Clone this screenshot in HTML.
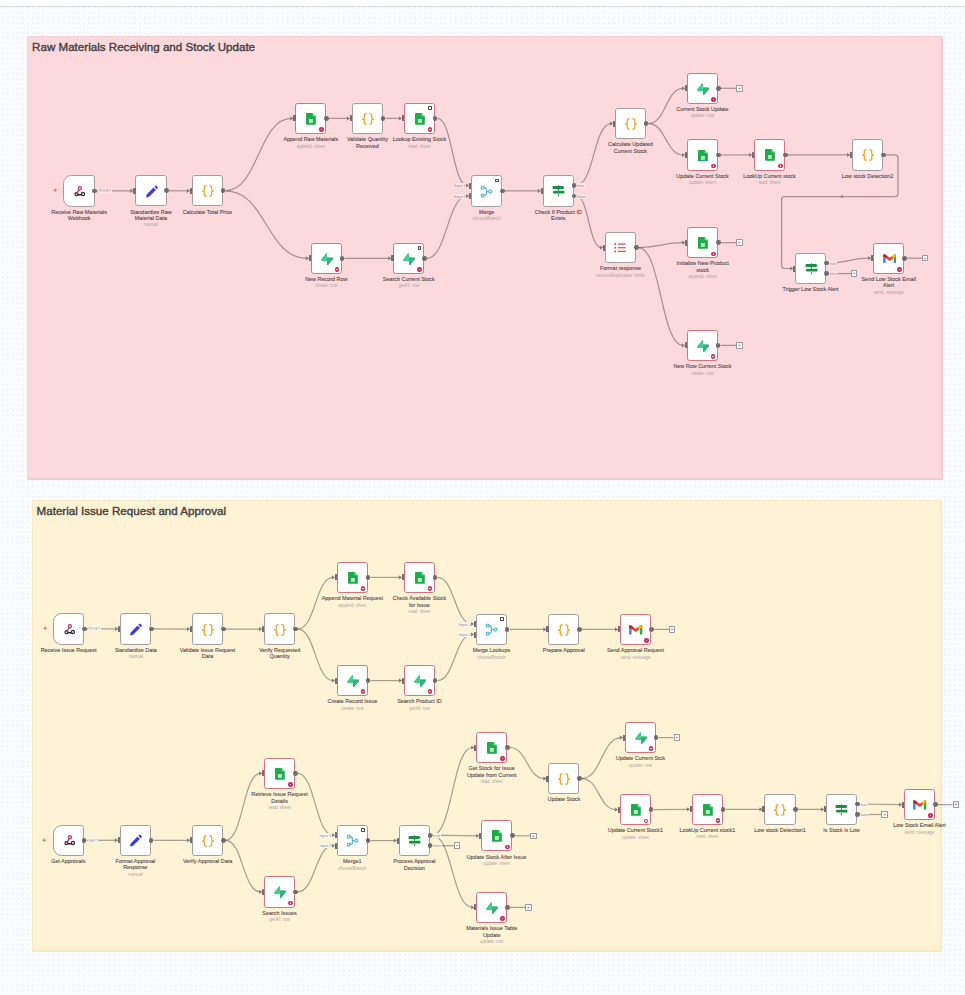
<!DOCTYPE html>
<html><head><meta charset="utf-8"><style>
html,body{margin:0;padding:0}
body{width:965px;height:995px;position:relative;overflow:hidden;background-color:#fafbfc;background-image:radial-gradient(circle at 2.5px 2.5px,#eceef2 0.55px,rgba(249,250,252,0) 0.9px);background-size:5.1px 5.1px;font-family:"Liberation Sans",sans-serif}
.top{position:absolute;left:0;top:0;width:965px;height:6px;background:#fff;border-bottom:1px solid #d9dadd}
.st{position:absolute;box-sizing:border-box}
.st1{left:27.3px;top:35.9px;width:915.6px;height:444.6px;background:#fcd9dc;box-shadow:inset 0 0 0 0.8px rgba(215,150,160,0.18),inset -2px -2px 3px rgba(230,170,180,0.2);border-radius:2px}
.st2{left:32px;top:500px;width:910.2px;height:451.9px;background:#fef3d5;box-shadow:inset 0 0 0 0.8px rgba(225,190,120,0.18),inset -2px -2px 3px rgba(245,215,140,0.3);border-radius:2px}
.ttl{position:absolute;font-size:11.6px;color:#454142;white-space:nowrap;-webkit-text-stroke:0.4px #454142}
svg.edges{position:absolute;left:0;top:0}
svg.edges path{fill:none;stroke:rgba(85,70,74,0.5);stroke-width:1.2}
.n{position:absolute;width:31.4px;height:31.4px;box-sizing:border-box;background:#fff;border:0.9px solid #a29d9e;border-radius:2.6px;display:flex;align-items:center;justify-content:center;padding:1px 0 0 1px}
.n.e{border-color:#d9737d}
.n.t{border-radius:8.5px 2.6px 2.6px 8.5px}
svg.edges path.ar{fill:#857f80;stroke:none}
.ei{position:absolute;width:4.6px;height:4.6px;box-sizing:border-box;border-radius:50%;background:#d02d55;border:0 solid #cf3160}
.ei::after{content:"";position:absolute;left:1.55px;top:1.55px;width:1.5px;height:1.5px;border-radius:50%;background:#fbe3ea}

.pin{position:absolute;width:3.8px;height:3.6px;box-sizing:border-box;border:0.65px solid #4a4a4a;border-radius:0.7px}
.hi{position:absolute;width:2.5px;height:6px;background:#726c6d;border-radius:0.5px}
.ho{position:absolute;width:4.8px;height:4.8px;border-radius:50%;background:#6f6a6b}
.lb{position:absolute;width:100px;text-align:center;white-space:nowrap}
.lt{font-size:5.45px;line-height:6.4px;color:#54484b;-webkit-text-stroke:0.1px #54484b}
.sb{font-size:4.45px;line-height:8.4px;margin-top:0px;color:#aea6a8}
.pb{position:absolute;width:6.6px;height:6.6px;box-sizing:border-box;border:0.7px solid #9d9899;background:#fff;border-radius:0.8px;font-size:5px;line-height:5px;text-align:center;color:#777}
.el,.il,.ol{position:absolute;font-size:3.9px;line-height:5px;padding:0 0.6px;color:#8d8587;white-space:nowrap}
.el{letter-spacing:0.45px}
.pk{background:#fde7e9}
.yl{background:#fef9ec}
.tb{position:absolute}
</style></head><body>
<div class="top"></div>
<div class="st st1"></div>
<div class="st st2"></div>
<div class="ttl" style="left:32.1px;top:40px">Raw Materials Receiving and Stock Update</div>
<div class="ttl" style="left:36.6px;top:504px">Material Issue Request and Approval</div>
<svg class="edges" width="965" height="995" viewBox="0 0 965 995">
<path d="M97.2 190.9L131.6 190.8"/>
<path d="M169 190.8L188.1 190.8"/>
<path d="M225.5 190.8C258.5 190.8 258.5 118.4 291.5 118.4"/>
<path d="M225.5 190.8C266.25 190.8 266.25 258.3 307 258.3"/>
<path d="M328.9 118.4L348.1 118.4"/>
<path d="M385.5 118.4L400.1 118.4"/>
<path d="M437.5 118.4C452.4 118.4 452.4 185.5 467.3 185.5"/>
<path d="M344.4 258.3L389.5 258.3"/>
<path d="M426.9 258.3C447.1 258.3 447.1 196 467.3 196"/>
<path d="M504.7 190.9L539 190.9"/>
<path d="M576.4 185.5C593.75 185.5 593.75 123.6 611.1 123.6"/>
<path d="M576.4 196C588.8 196 588.8 247.6 601.2 247.6"/>
<path d="M648.5 123.6C665.85 123.6 665.85 88.3 683.2 88.3"/>
<path d="M648.5 123.6C665.85 123.6 665.85 155 683.2 155"/>
<path d="M720.6 155L750.2 154.9"/>
<path d="M787.6 154.9L848.2 154.9"/>
<path d="M638.6 247.6C660.95 247.6 660.95 242.7 683.3 242.7"/>
<path d="M638.6 247.6C660.85 247.6 660.85 345.4 683.1 345.4"/>
<path d="M828.7 263.1C849.05 263.1 849.05 258.2 869.4 258.2"/>
<path d="M86.7 628.9L116.4 628.9"/>
<path d="M153.8 628.9L188.2 629.1"/>
<path d="M225.6 629.1L260.4 629.1"/>
<path d="M297.8 629.1C315.45 629.1 315.45 577.4 333.1 577.4"/>
<path d="M297.8 629.1C315.45 629.1 315.45 680.6 333.1 680.6"/>
<path d="M370.5 577.4L400.1 577.4"/>
<path d="M437.5 577.4C454.8 577.4 454.8 624 472.1 624"/>
<path d="M370.5 680.6L400.1 680.6"/>
<path d="M437.5 680.6C454.8 680.6 454.8 634.5 472.1 634.5"/>
<path d="M509.5 629.4L544.5 629.4"/>
<path d="M581.9 629.4L616.2 629.4"/>
<path d="M86.5 840.3L116.1 840.3"/>
<path d="M153.5 840.3L188.3 840.3"/>
<path d="M225.7 840.3C243 840.3 243 773.4 260.3 773.4"/>
<path d="M225.7 840.3C243 840.3 243 891.9 260.3 891.9"/>
<path d="M297.7 773.4C315.35 773.4 315.35 835.2 333 835.2"/>
<path d="M297.7 891.9C315.35 891.9 315.35 845.7 333 845.7"/>
<path d="M370.4 840.6L395 840.6"/>
<path d="M432.4 835.2C452.4 835.2 452.4 747.5 472.4 747.5"/>
<path d="M432.4 835.2L477.3 835.8"/>
<path d="M432.4 835.2C452.4 835.2 452.4 907.4 472.4 907.4"/>
<path d="M509.8 747.5C527.15 747.5 527.15 778.6 544.5 778.6"/>
<path d="M581.9 778.6C601.5 778.6 601.5 737.6 621.1 737.6"/>
<path d="M581.9 778.6C599 778.6 599 809.7 616.1 809.7"/>
<path d="M653.5 809.7L688.1 809.3"/>
<path d="M725.5 809.3L760.7 809.3"/>
<path d="M798.1 809.3L822.2 809.4"/>
<path d="M859.6 804L900.2 804.6"/>
<path d="M885.7 154.9L895 154.9Q898 154.9 898 157.9L898 193.6Q898 196.6 895 196.6L784.6 196.6Q781.6 196.6 781.6 199.6L781.6 265.5Q781.6 268.5 784.6 268.5L791.3 268.5"/>
<path d="M720.6 88.3L736.1 88.3"/>
<path d="M720.7 242.7L736 242.7"/>
<path d="M720.5 345.4L736.1 345.4"/>
<path d="M906.8 258.2L921.7 258.2"/>
<path d="M828.7 273.6L850.9 273.6"/>
<path d="M653.6 629.4L668.8 629.4"/>
<path d="M432.4 845.7L453.7 845.7"/>
<path d="M514.7 835.8L530 835.8"/>
<path d="M509.8 907.4L525 907.4"/>
<path d="M658.5 737.6L673.5 737.6"/>
<path d="M859.6 814.5L881.4 814.5"/>
<path d="M937.6 804.6L952.5 804.6"/>
<path class="ar" d="M130.4 188.7L133.7 190.8L130.4 192.9Z"/>
<path class="ar" d="M186.9 188.7L190.2 190.8L186.9 192.9Z"/>
<path class="ar" d="M290.3 116.3L293.6 118.4L290.3 120.5Z"/>
<path class="ar" d="M305.8 256.2L309.1 258.3L305.8 260.4Z"/>
<path class="ar" d="M346.9 116.3L350.2 118.4L346.9 120.5Z"/>
<path class="ar" d="M398.9 116.3L402.2 118.4L398.9 120.5Z"/>
<path class="ar" d="M466.1 183.4L469.4 185.5L466.1 187.6Z"/>
<path class="ar" d="M388.3 256.2L391.6 258.3L388.3 260.4Z"/>
<path class="ar" d="M466.1 193.9L469.4 196L466.1 198.1Z"/>
<path class="ar" d="M537.8 188.8L541.1 190.9L537.8 193Z"/>
<path class="ar" d="M609.9 121.5L613.2 123.6L609.9 125.7Z"/>
<path class="ar" d="M600 245.5L603.3 247.6L600 249.7Z"/>
<path class="ar" d="M682 86.2L685.3 88.3L682 90.4Z"/>
<path class="ar" d="M682 152.9L685.3 155L682 157.1Z"/>
<path class="ar" d="M749 152.8L752.3 154.9L749 157Z"/>
<path class="ar" d="M847 152.8L850.3 154.9L847 157Z"/>
<path class="ar" d="M682.1 240.6L685.4 242.7L682.1 244.8Z"/>
<path class="ar" d="M681.9 343.3L685.2 345.4L681.9 347.5Z"/>
<path class="ar" d="M868.2 256.1L871.5 258.2L868.2 260.3Z"/>
<path class="ar" d="M115.2 626.8L118.5 628.9L115.2 631Z"/>
<path class="ar" d="M187 627L190.3 629.1L187 631.2Z"/>
<path class="ar" d="M259.2 627L262.5 629.1L259.2 631.2Z"/>
<path class="ar" d="M331.9 575.3L335.2 577.4L331.9 579.5Z"/>
<path class="ar" d="M331.9 678.5L335.2 680.6L331.9 682.7Z"/>
<path class="ar" d="M398.9 575.3L402.2 577.4L398.9 579.5Z"/>
<path class="ar" d="M470.9 621.9L474.2 624L470.9 626.1Z"/>
<path class="ar" d="M398.9 678.5L402.2 680.6L398.9 682.7Z"/>
<path class="ar" d="M470.9 632.4L474.2 634.5L470.9 636.6Z"/>
<path class="ar" d="M543.3 627.3L546.6 629.4L543.3 631.5Z"/>
<path class="ar" d="M615 627.3L618.3 629.4L615 631.5Z"/>
<path class="ar" d="M114.9 838.2L118.2 840.3L114.9 842.4Z"/>
<path class="ar" d="M187.1 838.2L190.4 840.3L187.1 842.4Z"/>
<path class="ar" d="M259.1 771.3L262.4 773.4L259.1 775.5Z"/>
<path class="ar" d="M259.1 889.8L262.4 891.9L259.1 894Z"/>
<path class="ar" d="M331.8 833.1L335.1 835.2L331.8 837.3Z"/>
<path class="ar" d="M331.8 843.6L335.1 845.7L331.8 847.8Z"/>
<path class="ar" d="M393.8 838.5L397.1 840.6L393.8 842.7Z"/>
<path class="ar" d="M471.2 745.4L474.5 747.5L471.2 749.6Z"/>
<path class="ar" d="M476.1 833.7L479.4 835.8L476.1 837.9Z"/>
<path class="ar" d="M471.2 905.3L474.5 907.4L471.2 909.5Z"/>
<path class="ar" d="M543.3 776.5L546.6 778.6L543.3 780.7Z"/>
<path class="ar" d="M619.9 735.5L623.2 737.6L619.9 739.7Z"/>
<path class="ar" d="M614.9 807.6L618.2 809.7L614.9 811.8Z"/>
<path class="ar" d="M686.9 807.2L690.2 809.3L686.9 811.4Z"/>
<path class="ar" d="M759.5 807.2L762.8 809.3L759.5 811.4Z"/>
<path class="ar" d="M821 807.3L824.3 809.4L821 811.5Z"/>
<path class="ar" d="M899 802.5L902.3 804.6L899 806.7Z"/>
<path class="ar" d="M839.6 196.6L842.8 194.9L842.8 198.3Z"/>
<path class="ar" d="M790.1 266.4L793.4 268.5L790.1 270.6Z"/>
</svg>
<div class="n t" style="left:63.4px;top:175.2px"><svg viewBox="0 0 12 11" width="11.6" height="10.6" style="margin-left:1.4px"><g fill="none" stroke-width="1.35" stroke-linecap="round"><circle cx="2.6" cy="8.5" r="1.55" stroke="#2f2a2d"/><path d="M4.1 9.1H7.8" stroke="#2f2a2d"/><circle cx="9.3" cy="8.3" r="1.6" stroke="#2f2a2d"/><circle cx="6.1" cy="2.4" r="1.6" stroke="#c73a73"/><path d="M5.3 3.8L2.9 7.9" stroke="#c73a73"/></g></svg></div>
<div class="ho" style="left:92.4px;top:188.5px"></div>
<svg class="tb" style="left:53.1px;top:188.3px" width="4.4" height="4.6" viewBox="0 0 4.4 4.6"><path d="M2.2 0L2.9 1.6L4.4 2.3L2.9 3L2.2 4.6L1.5 3L0 2.3L1.5 1.6Z" fill="#dc7d78"/></svg>
<div class="lb" style="left:29.1px;top:208.6px"><div class="lt">Receive Raw Materials<br>Webhook</div></div>
<div class="n" style="left:135.2px;top:175.1px"><svg viewBox="0 0 12 12" width="13.5" height="13.5"><path d="M0.9 11.1L1.5 8.4L7.6 2.3L9.7 4.4L3.6 10.5Z" fill="#3b3fe3"/><path d="M8.3 1.6L9.1 0.8Q9.7 0.2 10.3 0.8L11.2 1.7Q11.8 2.3 11.2 2.9L10.4 3.7Z" fill="#3b3fe3"/></svg></div>
<div class="hi" style="left:133.1px;top:187.8px"></div>
<div class="ho" style="left:164.2px;top:188.4px"></div>
<div class="lb" style="left:100.9px;top:208.5px"><div class="lt">Standardize Raw<br>Material Data</div><div class="sb">manual</div></div>
<div class="n" style="left:191.7px;top:175.1px"><svg viewBox="0 0 12 12" width="12" height="12"><path d="M4.7 0.9H3.3Q2.3 0.9 2.3 1.9V4.7Q2.3 5.8 0.6 6Q2.3 6.2 2.3 7.3V10.1Q2.3 11.1 3.3 11.1H4.7M7.3 0.9H8.7Q9.7 0.9 9.7 1.9V4.7Q9.7 5.8 11.4 6Q9.7 6.2 9.7 7.3V10.1Q9.7 11.1 8.7 11.1H7.3" fill="none" stroke="#f0a236" stroke-width="1.3" stroke-linejoin="round"/></svg></div>
<div class="hi" style="left:189.6px;top:187.8px"></div>
<div class="ho" style="left:220.7px;top:188.4px"></div>
<div class="lb" style="left:157.4px;top:208.5px"><div class="lt">Calculate Total Price</div></div>
<div class="n e" style="left:295.1px;top:102.7px"><svg viewBox="0 0 10 12" width="9.8" height="11.8"><path d="M0.7 0H6.8L10 3.2V11.3Q10 12 9.3 12H0.7Q0 12 0 11.3V0.7Q0 0 0.7 0Z" fill="#1faa4c"/><path d="M6.8 0V3.2H10Z" fill="#86dba0"/><rect x="3" y="6.1" width="4" height="3.9" fill="#b8f3c4"/><path d="M3 8H7" stroke="#8fdca5" stroke-width="0.4"/></svg></div>
<div class="ei" style="left:319.3px;top:127.2px"></div>
<div class="hi" style="left:293px;top:115.4px"></div>
<div class="ho" style="left:324.1px;top:116px"></div>
<div class="lb" style="left:260.8px;top:136.1px"><div class="lt">Append Raw Materials</div><div class="sb">append: sheet</div></div>
<div class="n" style="left:351.7px;top:102.7px"><svg viewBox="0 0 12 12" width="12" height="12"><path d="M4.7 0.9H3.3Q2.3 0.9 2.3 1.9V4.7Q2.3 5.8 0.6 6Q2.3 6.2 2.3 7.3V10.1Q2.3 11.1 3.3 11.1H4.7M7.3 0.9H8.7Q9.7 0.9 9.7 1.9V4.7Q9.7 5.8 11.4 6Q9.7 6.2 9.7 7.3V10.1Q9.7 11.1 8.7 11.1H7.3" fill="none" stroke="#f0a236" stroke-width="1.3" stroke-linejoin="round"/></svg></div>
<div class="hi" style="left:349.6px;top:115.4px"></div>
<div class="ho" style="left:380.7px;top:116px"></div>
<div class="lb" style="left:317.4px;top:136.1px"><div class="lt">Validate Quantity<br>Received</div></div>
<div class="n e" style="left:403.7px;top:102.7px"><svg viewBox="0 0 10 12" width="9.8" height="11.8"><path d="M0.7 0H6.8L10 3.2V11.3Q10 12 9.3 12H0.7Q0 12 0 11.3V0.7Q0 0 0.7 0Z" fill="#1faa4c"/><path d="M6.8 0V3.2H10Z" fill="#86dba0"/><rect x="3" y="6.1" width="4" height="3.9" fill="#b8f3c4"/><path d="M3 8H7" stroke="#8fdca5" stroke-width="0.4"/></svg></div>
<div class="ei" style="left:427.9px;top:127.2px"></div>
<div class="pin" style="left:428.1px;top:106.1px"></div>
<div class="hi" style="left:401.6px;top:115.4px"></div>
<div class="ho" style="left:432.7px;top:116px"></div>
<div class="lb" style="left:369.4px;top:136.1px"><div class="lt">Lookup Existing Stock</div><div class="sb">read: sheet</div></div>
<div class="n e" style="left:310.6px;top:242.6px"><svg viewBox="0 0 109 113" width="12" height="12.4"><path d="M63.7 110.3C60.8 113.9 55 111.9 55 107.3L54 40.1H99.2C107.4 40.1 112 49.5 106.9 55.9Z" fill="#249361"/><path d="M63.7 110.3C60.8 113.9 55 111.9 55 107.3L54 40.1H99.2C107.4 40.1 112 49.5 106.9 55.9Z" fill="#3ecf8e" opacity="0.55"/><path d="M45.3 2.1C48.2-1.5 54-0.4 54 5L54.5 72.3H9.8C1.6 72.3-2.9 62.8 2.2 56.4Z" fill="#3ecf8e"/></svg></div>
<div class="ei" style="left:334.8px;top:267.1px"></div>
<div class="hi" style="left:308.5px;top:255.3px"></div>
<div class="ho" style="left:339.6px;top:255.9px"></div>
<div class="lb" style="left:276.3px;top:276px"><div class="lt">New Record Row</div><div class="sb">create: row</div></div>
<div class="n e" style="left:393.1px;top:242.6px"><svg viewBox="0 0 109 113" width="12" height="12.4"><path d="M63.7 110.3C60.8 113.9 55 111.9 55 107.3L54 40.1H99.2C107.4 40.1 112 49.5 106.9 55.9Z" fill="#249361"/><path d="M63.7 110.3C60.8 113.9 55 111.9 55 107.3L54 40.1H99.2C107.4 40.1 112 49.5 106.9 55.9Z" fill="#3ecf8e" opacity="0.55"/><path d="M45.3 2.1C48.2-1.5 54-0.4 54 5L54.5 72.3H9.8C1.6 72.3-2.9 62.8 2.2 56.4Z" fill="#3ecf8e"/></svg></div>
<div class="ei" style="left:417.3px;top:267.1px"></div>
<div class="pin" style="left:417.5px;top:246px"></div>
<div class="hi" style="left:391px;top:255.3px"></div>
<div class="ho" style="left:422.1px;top:255.9px"></div>
<div class="lb" style="left:358.8px;top:276px"><div class="lt">Search Current Stock</div><div class="sb">getAll: row</div></div>
<div class="n" style="left:470.9px;top:175.2px"><svg viewBox="0 0 12 12" width="13.2" height="13.2"><g fill="none" stroke="#4db4ca" stroke-width="1"><rect x="1.2" y="1.2" width="2.4" height="2.4" rx="0.5"/><rect x="1.2" y="8.4" width="2.4" height="2.4" rx="0.5"/><circle cx="9.5" cy="6" r="1.4"/><path d="M3.6 2.4Q5.8 2.4 5.8 4.4V7.6Q5.8 9.6 3.6 9.6M5.8 6H8.1"/></g></svg></div>
<div class="pin" style="left:495.3px;top:178.6px"></div>
<div class="hi" style="left:468.8px;top:182.5px"></div>
<div class="il pk" style="left:453.3px;top:183px">Input 1</div>
<div class="hi" style="left:468.8px;top:193px"></div>
<div class="il pk" style="left:453.3px;top:193.5px">Input 2</div>
<div class="ho" style="left:499.9px;top:188.5px"></div>
<div class="lb" style="left:436.6px;top:208.6px"><div class="lt">Merge</div><div class="sb">chooseBranch</div></div>
<div class="n" style="left:542.6px;top:175.2px"><svg viewBox="0 0 12 13" width="13" height="14.1"><g fill="#1b8f43"><path d="M0.9 1.9H10.3L11.5 3.2L10.3 4.5H0.9Q0.5 4.5 0.5 4.1V2.3Q0.5 1.9 0.9 1.9Z"/><path d="M11.1 6.2H1.7L0.5 7.5L1.7 8.8H11.1Q11.5 8.8 11.5 8.4V6.6Q11.5 6.2 11.1 6.2Z"/><rect x="5.5" y="1.2" width="1" height="0.7"/><rect x="5.5" y="4.5" width="1" height="1.7"/><rect x="5.5" y="9.5" width="1" height="1.8"/></g></svg></div>
<div class="hi" style="left:540.5px;top:187.9px"></div>
<div class="ho" style="left:571.6px;top:183.1px"></div>
<div class="ol pk" style="left:576.6px;top:183px">true</div>
<div class="ho" style="left:571.6px;top:193.6px"></div>
<div class="ol pk" style="left:576.6px;top:193.5px">false</div>
<div class="lb" style="left:508.3px;top:208.6px"><div class="lt">Check If Product ID<br>Exists</div></div>
<div class="n" style="left:614.7px;top:107.9px"><svg viewBox="0 0 12 12" width="12" height="12"><path d="M4.7 0.9H3.3Q2.3 0.9 2.3 1.9V4.7Q2.3 5.8 0.6 6Q2.3 6.2 2.3 7.3V10.1Q2.3 11.1 3.3 11.1H4.7M7.3 0.9H8.7Q9.7 0.9 9.7 1.9V4.7Q9.7 5.8 11.4 6Q9.7 6.2 9.7 7.3V10.1Q9.7 11.1 8.7 11.1H7.3" fill="none" stroke="#f0a236" stroke-width="1.3" stroke-linejoin="round"/></svg></div>
<div class="hi" style="left:612.6px;top:120.6px"></div>
<div class="ho" style="left:643.7px;top:121.2px"></div>
<div class="lb" style="left:580.4px;top:141.3px"><div class="lt">Calculate Updated<br>Current Stock</div></div>
<div class="n e" style="left:686.8px;top:72.6px"><svg viewBox="0 0 109 113" width="12" height="12.4"><path d="M63.7 110.3C60.8 113.9 55 111.9 55 107.3L54 40.1H99.2C107.4 40.1 112 49.5 106.9 55.9Z" fill="#249361"/><path d="M63.7 110.3C60.8 113.9 55 111.9 55 107.3L54 40.1H99.2C107.4 40.1 112 49.5 106.9 55.9Z" fill="#3ecf8e" opacity="0.55"/><path d="M45.3 2.1C48.2-1.5 54-0.4 54 5L54.5 72.3H9.8C1.6 72.3-2.9 62.8 2.2 56.4Z" fill="#3ecf8e"/></svg></div>
<div class="ei" style="left:711px;top:97.1px"></div>
<div class="hi" style="left:684.7px;top:85.3px"></div>
<div class="ho" style="left:715.8px;top:85.9px"></div>
<div class="lb" style="left:652.5px;top:106px"><div class="lt">Current Stock Update</div><div class="sb">update: row</div></div>
<div class="n e" style="left:686.8px;top:139.3px"><svg viewBox="0 0 10 12" width="9.8" height="11.8"><path d="M0.7 0H6.8L10 3.2V11.3Q10 12 9.3 12H0.7Q0 12 0 11.3V0.7Q0 0 0.7 0Z" fill="#1faa4c"/><path d="M6.8 0V3.2H10Z" fill="#86dba0"/><rect x="3" y="6.1" width="4" height="3.9" fill="#b8f3c4"/><path d="M3 8H7" stroke="#8fdca5" stroke-width="0.4"/></svg></div>
<div class="ei" style="left:711px;top:163.8px"></div>
<div class="hi" style="left:684.7px;top:152px"></div>
<div class="ho" style="left:715.8px;top:152.6px"></div>
<div class="lb" style="left:652.5px;top:172.7px"><div class="lt">Update Current Stock</div><div class="sb">update: sheet</div></div>
<div class="n e" style="left:753.8px;top:139.2px"><svg viewBox="0 0 10 12" width="9.8" height="11.8"><path d="M0.7 0H6.8L10 3.2V11.3Q10 12 9.3 12H0.7Q0 12 0 11.3V0.7Q0 0 0.7 0Z" fill="#1faa4c"/><path d="M6.8 0V3.2H10Z" fill="#86dba0"/><rect x="3" y="6.1" width="4" height="3.9" fill="#b8f3c4"/><path d="M3 8H7" stroke="#8fdca5" stroke-width="0.4"/></svg></div>
<div class="ei" style="left:778px;top:163.7px"></div>
<div class="hi" style="left:751.7px;top:151.9px"></div>
<div class="ho" style="left:782.8px;top:152.5px"></div>
<div class="lb" style="left:719.5px;top:172.6px"><div class="lt">LookUp Current stock</div><div class="sb">read: sheet</div></div>
<div class="n" style="left:851.8px;top:139.2px"><svg viewBox="0 0 12 12" width="12" height="12"><path d="M4.7 0.9H3.3Q2.3 0.9 2.3 1.9V4.7Q2.3 5.8 0.6 6Q2.3 6.2 2.3 7.3V10.1Q2.3 11.1 3.3 11.1H4.7M7.3 0.9H8.7Q9.7 0.9 9.7 1.9V4.7Q9.7 5.8 11.4 6Q9.7 6.2 9.7 7.3V10.1Q9.7 11.1 8.7 11.1H7.3" fill="none" stroke="#f0a236" stroke-width="1.3" stroke-linejoin="round"/></svg></div>
<div class="hi" style="left:849.7px;top:151.9px"></div>
<div class="ho" style="left:880.8px;top:152.5px"></div>
<div class="lb" style="left:817.5px;top:172.6px"><div class="lt">Low stock Detection2</div></div>
<div class="n" style="left:604.8px;top:231.9px"><svg viewBox="0 0 12 12" width="13" height="13"><g fill="#e0513f"><rect x="0.3" y="1.1" width="1.7" height="1.6"/><rect x="0.3" y="4.5" width="1.7" height="1.6"/><rect x="0.3" y="7.9" width="1.7" height="1.6"/><rect x="3.6" y="1.3" width="7.2" height="1.15"/><rect x="3.6" y="4.7" width="7.2" height="1.15"/><rect x="3.6" y="8.1" width="7.2" height="1.15"/></g></svg></div>
<div class="hi" style="left:602.7px;top:244.6px"></div>
<div class="ho" style="left:633.8px;top:245.2px"></div>
<div class="lb" style="left:570.5px;top:265.3px"><div class="lt">Format response</div><div class="sb">removeDuplicates: fields</div></div>
<div class="n e" style="left:686.9px;top:227px"><svg viewBox="0 0 10 12" width="9.8" height="11.8"><path d="M0.7 0H6.8L10 3.2V11.3Q10 12 9.3 12H0.7Q0 12 0 11.3V0.7Q0 0 0.7 0Z" fill="#1faa4c"/><path d="M6.8 0V3.2H10Z" fill="#86dba0"/><rect x="3" y="6.1" width="4" height="3.9" fill="#b8f3c4"/><path d="M3 8H7" stroke="#8fdca5" stroke-width="0.4"/></svg></div>
<div class="ei" style="left:711.1px;top:251.5px"></div>
<div class="hi" style="left:684.8px;top:239.7px"></div>
<div class="ho" style="left:715.9px;top:240.3px"></div>
<div class="lb" style="left:652.6px;top:260.4px"><div class="lt">Initialize New Product<br>stock</div><div class="sb">append: sheet</div></div>
<div class="n e" style="left:686.7px;top:329.7px"><svg viewBox="0 0 109 113" width="12" height="12.4"><path d="M63.7 110.3C60.8 113.9 55 111.9 55 107.3L54 40.1H99.2C107.4 40.1 112 49.5 106.9 55.9Z" fill="#249361"/><path d="M63.7 110.3C60.8 113.9 55 111.9 55 107.3L54 40.1H99.2C107.4 40.1 112 49.5 106.9 55.9Z" fill="#3ecf8e" opacity="0.55"/><path d="M45.3 2.1C48.2-1.5 54-0.4 54 5L54.5 72.3H9.8C1.6 72.3-2.9 62.8 2.2 56.4Z" fill="#3ecf8e"/></svg></div>
<div class="ei" style="left:710.9px;top:354.2px"></div>
<div class="hi" style="left:684.6px;top:342.4px"></div>
<div class="ho" style="left:715.7px;top:343px"></div>
<div class="lb" style="left:652.4px;top:363.1px"><div class="lt">New Row Current Stock</div><div class="sb">create: row</div></div>
<div class="n" style="left:794.9px;top:252.8px"><svg viewBox="0 0 12 13" width="13" height="14.1"><g fill="#1b8f43"><path d="M0.9 1.9H10.3L11.5 3.2L10.3 4.5H0.9Q0.5 4.5 0.5 4.1V2.3Q0.5 1.9 0.9 1.9Z"/><path d="M11.1 6.2H1.7L0.5 7.5L1.7 8.8H11.1Q11.5 8.8 11.5 8.4V6.6Q11.5 6.2 11.1 6.2Z"/><rect x="5.5" y="1.2" width="1" height="0.7"/><rect x="5.5" y="4.5" width="1" height="1.7"/><rect x="5.5" y="9.5" width="1" height="1.8"/></g></svg></div>
<div class="hi" style="left:792.8px;top:265.5px"></div>
<div class="ho" style="left:823.9px;top:260.7px"></div>
<div class="ol pk" style="left:828.9px;top:260.6px">true</div>
<div class="ho" style="left:823.9px;top:271.2px"></div>
<div class="ol pk" style="left:828.9px;top:271.1px">false</div>
<div class="lb" style="left:760.6px;top:286.2px"><div class="lt">Trigger Low Stock Alert</div></div>
<div class="n e" style="left:873px;top:242.5px"><svg viewBox="0 0 14 10" width="13.4" height="9.6"><path d="M1.4 9V1.6" stroke="#4285f4" stroke-width="2.6" stroke-linecap="round"/><path d="M12.6 9V1.6" stroke="#34a853" stroke-width="2.6" stroke-linecap="round"/><path d="M1.4 1.6L7 5.6L12.6 1.6" fill="none" stroke="#ea4335" stroke-width="2.6" stroke-linejoin="round" stroke-linecap="round"/><path d="M10.8 2.9L12.6 1.6" stroke="#fbbc04" stroke-width="2.6" stroke-linecap="round"/><path d="M1.4 1.6L3 2.8" stroke="#c5221f" stroke-width="2.6" stroke-linecap="round"/></svg></div>
<div class="ei" style="left:897.2px;top:267px"></div>
<div class="hi" style="left:870.9px;top:255.2px"></div>
<div class="ho" style="left:902px;top:255.8px"></div>
<div class="lb" style="left:838.7px;top:275.9px"><div class="lt">Send Low Stock Email<br>Alert</div><div class="sb">send: message</div></div>
<div class="n t" style="left:52.9px;top:613.2px"><svg viewBox="0 0 12 11" width="11.6" height="10.6" style="margin-left:1.4px"><g fill="none" stroke-width="1.35" stroke-linecap="round"><circle cx="2.6" cy="8.5" r="1.55" stroke="#2f2a2d"/><path d="M4.1 9.1H7.8" stroke="#2f2a2d"/><circle cx="9.3" cy="8.3" r="1.6" stroke="#2f2a2d"/><circle cx="6.1" cy="2.4" r="1.6" stroke="#c73a73"/><path d="M5.3 3.8L2.9 7.9" stroke="#c73a73"/></g></svg></div>
<div class="ho" style="left:81.9px;top:626.5px"></div>
<svg class="tb" style="left:42.6px;top:626.3px" width="4.4" height="4.6" viewBox="0 0 4.4 4.6"><path d="M2.2 0L2.9 1.6L4.4 2.3L2.9 3L2.2 4.6L1.5 3L0 2.3L1.5 1.6Z" fill="#dc7d78"/></svg>
<div class="lb" style="left:18.6px;top:646.6px"><div class="lt">Receive Issue Request</div></div>
<div class="n" style="left:120px;top:613.2px"><svg viewBox="0 0 12 12" width="13.5" height="13.5"><path d="M0.9 11.1L1.5 8.4L7.6 2.3L9.7 4.4L3.6 10.5Z" fill="#3b3fe3"/><path d="M8.3 1.6L9.1 0.8Q9.7 0.2 10.3 0.8L11.2 1.7Q11.8 2.3 11.2 2.9L10.4 3.7Z" fill="#3b3fe3"/></svg></div>
<div class="hi" style="left:117.9px;top:625.9px"></div>
<div class="ho" style="left:149px;top:626.5px"></div>
<div class="lb" style="left:85.7px;top:646.6px"><div class="lt">Standardize Data</div><div class="sb">manual</div></div>
<div class="n" style="left:191.8px;top:613.4px"><svg viewBox="0 0 12 12" width="12" height="12"><path d="M4.7 0.9H3.3Q2.3 0.9 2.3 1.9V4.7Q2.3 5.8 0.6 6Q2.3 6.2 2.3 7.3V10.1Q2.3 11.1 3.3 11.1H4.7M7.3 0.9H8.7Q9.7 0.9 9.7 1.9V4.7Q9.7 5.8 11.4 6Q9.7 6.2 9.7 7.3V10.1Q9.7 11.1 8.7 11.1H7.3" fill="none" stroke="#f0a236" stroke-width="1.3" stroke-linejoin="round"/></svg></div>
<div class="hi" style="left:189.7px;top:626.1px"></div>
<div class="ho" style="left:220.8px;top:626.7px"></div>
<div class="lb" style="left:157.5px;top:646.8px"><div class="lt">Validate Issue Request<br>Data</div></div>
<div class="n" style="left:264px;top:613.4px"><svg viewBox="0 0 12 12" width="12" height="12"><path d="M4.7 0.9H3.3Q2.3 0.9 2.3 1.9V4.7Q2.3 5.8 0.6 6Q2.3 6.2 2.3 7.3V10.1Q2.3 11.1 3.3 11.1H4.7M7.3 0.9H8.7Q9.7 0.9 9.7 1.9V4.7Q9.7 5.8 11.4 6Q9.7 6.2 9.7 7.3V10.1Q9.7 11.1 8.7 11.1H7.3" fill="none" stroke="#f0a236" stroke-width="1.3" stroke-linejoin="round"/></svg></div>
<div class="hi" style="left:261.9px;top:626.1px"></div>
<div class="ho" style="left:293px;top:626.7px"></div>
<div class="lb" style="left:229.7px;top:646.8px"><div class="lt">Verify Requested<br>Quantity</div></div>
<div class="n e" style="left:336.7px;top:561.7px"><svg viewBox="0 0 10 12" width="9.8" height="11.8"><path d="M0.7 0H6.8L10 3.2V11.3Q10 12 9.3 12H0.7Q0 12 0 11.3V0.7Q0 0 0.7 0Z" fill="#1faa4c"/><path d="M6.8 0V3.2H10Z" fill="#86dba0"/><rect x="3" y="6.1" width="4" height="3.9" fill="#b8f3c4"/><path d="M3 8H7" stroke="#8fdca5" stroke-width="0.4"/></svg></div>
<div class="ei" style="left:360.9px;top:586.2px"></div>
<div class="hi" style="left:334.6px;top:574.4px"></div>
<div class="ho" style="left:365.7px;top:575px"></div>
<div class="lb" style="left:302.4px;top:595.1px"><div class="lt">Append Material Request</div><div class="sb">append: sheet</div></div>
<div class="n e" style="left:403.7px;top:561.7px"><svg viewBox="0 0 10 12" width="9.8" height="11.8"><path d="M0.7 0H6.8L10 3.2V11.3Q10 12 9.3 12H0.7Q0 12 0 11.3V0.7Q0 0 0.7 0Z" fill="#1faa4c"/><path d="M6.8 0V3.2H10Z" fill="#86dba0"/><rect x="3" y="6.1" width="4" height="3.9" fill="#b8f3c4"/><path d="M3 8H7" stroke="#8fdca5" stroke-width="0.4"/></svg></div>
<div class="ei" style="left:427.9px;top:586.2px"></div>
<div class="hi" style="left:401.6px;top:574.4px"></div>
<div class="ho" style="left:432.7px;top:575px"></div>
<div class="lb" style="left:369.4px;top:595.1px"><div class="lt">Check Available Stock<br>for Issue</div><div class="sb">read: sheet</div></div>
<div class="n e" style="left:336.7px;top:664.9px"><svg viewBox="0 0 109 113" width="12" height="12.4"><path d="M63.7 110.3C60.8 113.9 55 111.9 55 107.3L54 40.1H99.2C107.4 40.1 112 49.5 106.9 55.9Z" fill="#249361"/><path d="M63.7 110.3C60.8 113.9 55 111.9 55 107.3L54 40.1H99.2C107.4 40.1 112 49.5 106.9 55.9Z" fill="#3ecf8e" opacity="0.55"/><path d="M45.3 2.1C48.2-1.5 54-0.4 54 5L54.5 72.3H9.8C1.6 72.3-2.9 62.8 2.2 56.4Z" fill="#3ecf8e"/></svg></div>
<div class="ei" style="left:360.9px;top:689.4px"></div>
<div class="hi" style="left:334.6px;top:677.6px"></div>
<div class="ho" style="left:365.7px;top:678.2px"></div>
<div class="lb" style="left:302.4px;top:698.3px"><div class="lt">Create Record Issue</div><div class="sb">create: row</div></div>
<div class="n e" style="left:403.7px;top:664.9px"><svg viewBox="0 0 109 113" width="12" height="12.4"><path d="M63.7 110.3C60.8 113.9 55 111.9 55 107.3L54 40.1H99.2C107.4 40.1 112 49.5 106.9 55.9Z" fill="#249361"/><path d="M63.7 110.3C60.8 113.9 55 111.9 55 107.3L54 40.1H99.2C107.4 40.1 112 49.5 106.9 55.9Z" fill="#3ecf8e" opacity="0.55"/><path d="M45.3 2.1C48.2-1.5 54-0.4 54 5L54.5 72.3H9.8C1.6 72.3-2.9 62.8 2.2 56.4Z" fill="#3ecf8e"/></svg></div>
<div class="ei" style="left:427.9px;top:689.4px"></div>
<div class="hi" style="left:401.6px;top:677.6px"></div>
<div class="ho" style="left:432.7px;top:678.2px"></div>
<div class="lb" style="left:369.4px;top:698.3px"><div class="lt">Search Product ID</div><div class="sb">getAll: row</div></div>
<div class="n" style="left:475.7px;top:613.7px"><svg viewBox="0 0 12 12" width="13.2" height="13.2"><g fill="none" stroke="#4db4ca" stroke-width="1"><rect x="1.2" y="1.2" width="2.4" height="2.4" rx="0.5"/><rect x="1.2" y="8.4" width="2.4" height="2.4" rx="0.5"/><circle cx="9.5" cy="6" r="1.4"/><path d="M3.6 2.4Q5.8 2.4 5.8 4.4V7.6Q5.8 9.6 3.6 9.6M5.8 6H8.1"/></g></svg></div>
<div class="pin" style="left:500.1px;top:617.1px"></div>
<div class="hi" style="left:473.6px;top:621px"></div>
<div class="il yl" style="left:458.1px;top:621.5px">Input 1</div>
<div class="hi" style="left:473.6px;top:631.5px"></div>
<div class="il yl" style="left:458.1px;top:632px">Input 2</div>
<div class="ho" style="left:504.7px;top:627px"></div>
<div class="lb" style="left:441.4px;top:647.1px"><div class="lt">Merge Lookups</div><div class="sb">chooseBranch</div></div>
<div class="n" style="left:548.1px;top:613.7px"><svg viewBox="0 0 12 12" width="12" height="12"><path d="M4.7 0.9H3.3Q2.3 0.9 2.3 1.9V4.7Q2.3 5.8 0.6 6Q2.3 6.2 2.3 7.3V10.1Q2.3 11.1 3.3 11.1H4.7M7.3 0.9H8.7Q9.7 0.9 9.7 1.9V4.7Q9.7 5.8 11.4 6Q9.7 6.2 9.7 7.3V10.1Q9.7 11.1 8.7 11.1H7.3" fill="none" stroke="#f0a236" stroke-width="1.3" stroke-linejoin="round"/></svg></div>
<div class="hi" style="left:546px;top:626.4px"></div>
<div class="ho" style="left:577.1px;top:627px"></div>
<div class="lb" style="left:513.8px;top:647.1px"><div class="lt">Prepare Approval</div></div>
<div class="n e" style="left:619.8px;top:613.7px"><svg viewBox="0 0 14 10" width="13.4" height="9.6"><path d="M1.4 9V1.6" stroke="#4285f4" stroke-width="2.6" stroke-linecap="round"/><path d="M12.6 9V1.6" stroke="#34a853" stroke-width="2.6" stroke-linecap="round"/><path d="M1.4 1.6L7 5.6L12.6 1.6" fill="none" stroke="#ea4335" stroke-width="2.6" stroke-linejoin="round" stroke-linecap="round"/><path d="M10.8 2.9L12.6 1.6" stroke="#fbbc04" stroke-width="2.6" stroke-linecap="round"/><path d="M1.4 1.6L3 2.8" stroke="#c5221f" stroke-width="2.6" stroke-linecap="round"/></svg></div>
<div class="ei" style="left:644px;top:638.2px"></div>
<div class="hi" style="left:617.7px;top:626.4px"></div>
<div class="ho" style="left:648.8px;top:627px"></div>
<div class="lb" style="left:585.5px;top:647.1px"><div class="lt">Send Approval Request</div><div class="sb">send: message</div></div>
<div class="n t" style="left:52.7px;top:824.6px"><svg viewBox="0 0 12 11" width="11.6" height="10.6" style="margin-left:1.4px"><g fill="none" stroke-width="1.35" stroke-linecap="round"><circle cx="2.6" cy="8.5" r="1.55" stroke="#2f2a2d"/><path d="M4.1 9.1H7.8" stroke="#2f2a2d"/><circle cx="9.3" cy="8.3" r="1.6" stroke="#2f2a2d"/><circle cx="6.1" cy="2.4" r="1.6" stroke="#c73a73"/><path d="M5.3 3.8L2.9 7.9" stroke="#c73a73"/></g></svg></div>
<div class="ho" style="left:81.7px;top:837.9px"></div>
<svg class="tb" style="left:42.4px;top:837.7px" width="4.4" height="4.6" viewBox="0 0 4.4 4.6"><path d="M2.2 0L2.9 1.6L4.4 2.3L2.9 3L2.2 4.6L1.5 3L0 2.3L1.5 1.6Z" fill="#dc7d78"/></svg>
<div class="lb" style="left:18.4px;top:858px"><div class="lt">Get Approvals</div></div>
<div class="n" style="left:119.7px;top:824.6px"><svg viewBox="0 0 12 12" width="13.5" height="13.5"><path d="M0.9 11.1L1.5 8.4L7.6 2.3L9.7 4.4L3.6 10.5Z" fill="#3b3fe3"/><path d="M8.3 1.6L9.1 0.8Q9.7 0.2 10.3 0.8L11.2 1.7Q11.8 2.3 11.2 2.9L10.4 3.7Z" fill="#3b3fe3"/></svg></div>
<div class="hi" style="left:117.6px;top:837.3px"></div>
<div class="ho" style="left:148.7px;top:837.9px"></div>
<div class="lb" style="left:85.4px;top:858px"><div class="lt">Format Approval<br>Response</div><div class="sb">manual</div></div>
<div class="n" style="left:191.9px;top:824.6px"><svg viewBox="0 0 12 12" width="12" height="12"><path d="M4.7 0.9H3.3Q2.3 0.9 2.3 1.9V4.7Q2.3 5.8 0.6 6Q2.3 6.2 2.3 7.3V10.1Q2.3 11.1 3.3 11.1H4.7M7.3 0.9H8.7Q9.7 0.9 9.7 1.9V4.7Q9.7 5.8 11.4 6Q9.7 6.2 9.7 7.3V10.1Q9.7 11.1 8.7 11.1H7.3" fill="none" stroke="#f0a236" stroke-width="1.3" stroke-linejoin="round"/></svg></div>
<div class="hi" style="left:189.8px;top:837.3px"></div>
<div class="ho" style="left:220.9px;top:837.9px"></div>
<div class="lb" style="left:157.6px;top:858px"><div class="lt">Verify Approval Data</div></div>
<div class="n e" style="left:263.9px;top:757.7px"><svg viewBox="0 0 10 12" width="9.8" height="11.8"><path d="M0.7 0H6.8L10 3.2V11.3Q10 12 9.3 12H0.7Q0 12 0 11.3V0.7Q0 0 0.7 0Z" fill="#1faa4c"/><path d="M6.8 0V3.2H10Z" fill="#86dba0"/><rect x="3" y="6.1" width="4" height="3.9" fill="#b8f3c4"/><path d="M3 8H7" stroke="#8fdca5" stroke-width="0.4"/></svg></div>
<div class="ei" style="left:288.1px;top:782.2px"></div>
<div class="hi" style="left:261.8px;top:770.4px"></div>
<div class="ho" style="left:292.9px;top:771px"></div>
<div class="lb" style="left:229.6px;top:791.1px"><div class="lt">Retrieve Issue Request<br>Details</div><div class="sb">read: sheet</div></div>
<div class="n e" style="left:263.9px;top:876.2px"><svg viewBox="0 0 109 113" width="12" height="12.4"><path d="M63.7 110.3C60.8 113.9 55 111.9 55 107.3L54 40.1H99.2C107.4 40.1 112 49.5 106.9 55.9Z" fill="#249361"/><path d="M63.7 110.3C60.8 113.9 55 111.9 55 107.3L54 40.1H99.2C107.4 40.1 112 49.5 106.9 55.9Z" fill="#3ecf8e" opacity="0.55"/><path d="M45.3 2.1C48.2-1.5 54-0.4 54 5L54.5 72.3H9.8C1.6 72.3-2.9 62.8 2.2 56.4Z" fill="#3ecf8e"/></svg></div>
<div class="ei" style="left:288.1px;top:900.7px"></div>
<div class="hi" style="left:261.8px;top:888.9px"></div>
<div class="ho" style="left:292.9px;top:889.5px"></div>
<div class="lb" style="left:229.6px;top:909.6px"><div class="lt">Search Issues</div><div class="sb">getAll: row</div></div>
<div class="n" style="left:336.6px;top:824.9px"><svg viewBox="0 0 12 12" width="13.2" height="13.2"><g fill="none" stroke="#4db4ca" stroke-width="1"><rect x="1.2" y="1.2" width="2.4" height="2.4" rx="0.5"/><rect x="1.2" y="8.4" width="2.4" height="2.4" rx="0.5"/><circle cx="9.5" cy="6" r="1.4"/><path d="M3.6 2.4Q5.8 2.4 5.8 4.4V7.6Q5.8 9.6 3.6 9.6M5.8 6H8.1"/></g></svg></div>
<div class="pin" style="left:361px;top:828.3px"></div>
<div class="hi" style="left:334.5px;top:832.2px"></div>
<div class="il yl" style="left:319px;top:832.7px">Input 1</div>
<div class="hi" style="left:334.5px;top:842.7px"></div>
<div class="il yl" style="left:319px;top:843.2px">Input 2</div>
<div class="ho" style="left:365.6px;top:838.2px"></div>
<div class="lb" style="left:302.3px;top:858.3px"><div class="lt">Merge1</div><div class="sb">chooseBranch</div></div>
<div class="n" style="left:398.6px;top:824.9px"><svg viewBox="0 0 12 13" width="13" height="14.1"><g fill="#1b8f43"><path d="M0.9 1.9H10.3L11.5 3.2L10.3 4.5H0.9Q0.5 4.5 0.5 4.1V2.3Q0.5 1.9 0.9 1.9Z"/><path d="M11.1 6.2H1.7L0.5 7.5L1.7 8.8H11.1Q11.5 8.8 11.5 8.4V6.6Q11.5 6.2 11.1 6.2Z"/><rect x="5.5" y="1.2" width="1" height="0.7"/><rect x="5.5" y="4.5" width="1" height="1.7"/><rect x="5.5" y="9.5" width="1" height="1.8"/></g></svg></div>
<div class="hi" style="left:396.5px;top:837.6px"></div>
<div class="ho" style="left:427.6px;top:832.8px"></div>
<div class="ol yl" style="left:432.6px;top:832.7px">true</div>
<div class="ho" style="left:427.6px;top:843.3px"></div>
<div class="ol yl" style="left:432.6px;top:843.2px">false</div>
<div class="lb" style="left:364.3px;top:858.3px"><div class="lt">Process Approval<br>Decision</div></div>
<div class="n e" style="left:476px;top:731.8px"><svg viewBox="0 0 10 12" width="9.8" height="11.8"><path d="M0.7 0H6.8L10 3.2V11.3Q10 12 9.3 12H0.7Q0 12 0 11.3V0.7Q0 0 0.7 0Z" fill="#1faa4c"/><path d="M6.8 0V3.2H10Z" fill="#86dba0"/><rect x="3" y="6.1" width="4" height="3.9" fill="#b8f3c4"/><path d="M3 8H7" stroke="#8fdca5" stroke-width="0.4"/></svg></div>
<div class="ei" style="left:500.2px;top:756.3px"></div>
<div class="hi" style="left:473.9px;top:744.5px"></div>
<div class="ho" style="left:505px;top:745.1px"></div>
<div class="lb" style="left:441.7px;top:765.2px"><div class="lt">Get Stock for Issue<br>Update from Current</div><div class="sb">read: sheet</div></div>
<div class="n e" style="left:480.9px;top:820.1px"><svg viewBox="0 0 10 12" width="9.8" height="11.8"><path d="M0.7 0H6.8L10 3.2V11.3Q10 12 9.3 12H0.7Q0 12 0 11.3V0.7Q0 0 0.7 0Z" fill="#1faa4c"/><path d="M6.8 0V3.2H10Z" fill="#86dba0"/><rect x="3" y="6.1" width="4" height="3.9" fill="#b8f3c4"/><path d="M3 8H7" stroke="#8fdca5" stroke-width="0.4"/></svg></div>
<div class="ei" style="left:505.1px;top:844.6px"></div>
<div class="hi" style="left:478.8px;top:832.8px"></div>
<div class="ho" style="left:509.9px;top:833.4px"></div>
<div class="lb" style="left:446.6px;top:853.5px"><div class="lt">Update Stock After Issue</div><div class="sb">update: sheet</div></div>
<div class="n e" style="left:476px;top:891.7px"><svg viewBox="0 0 109 113" width="12" height="12.4"><path d="M63.7 110.3C60.8 113.9 55 111.9 55 107.3L54 40.1H99.2C107.4 40.1 112 49.5 106.9 55.9Z" fill="#249361"/><path d="M63.7 110.3C60.8 113.9 55 111.9 55 107.3L54 40.1H99.2C107.4 40.1 112 49.5 106.9 55.9Z" fill="#3ecf8e" opacity="0.55"/><path d="M45.3 2.1C48.2-1.5 54-0.4 54 5L54.5 72.3H9.8C1.6 72.3-2.9 62.8 2.2 56.4Z" fill="#3ecf8e"/></svg></div>
<div class="ei" style="left:500.2px;top:916.2px"></div>
<div class="hi" style="left:473.9px;top:904.4px"></div>
<div class="ho" style="left:505px;top:905px"></div>
<div class="lb" style="left:441.7px;top:925.1px"><div class="lt">Materials Issue Table<br>Update</div><div class="sb">update: row</div></div>
<div class="n" style="left:548.1px;top:762.9px"><svg viewBox="0 0 12 12" width="12" height="12"><path d="M4.7 0.9H3.3Q2.3 0.9 2.3 1.9V4.7Q2.3 5.8 0.6 6Q2.3 6.2 2.3 7.3V10.1Q2.3 11.1 3.3 11.1H4.7M7.3 0.9H8.7Q9.7 0.9 9.7 1.9V4.7Q9.7 5.8 11.4 6Q9.7 6.2 9.7 7.3V10.1Q9.7 11.1 8.7 11.1H7.3" fill="none" stroke="#f0a236" stroke-width="1.3" stroke-linejoin="round"/></svg></div>
<div class="hi" style="left:546px;top:775.6px"></div>
<div class="ho" style="left:577.1px;top:776.2px"></div>
<div class="lb" style="left:513.8px;top:796.3px"><div class="lt">Update Stock</div></div>
<div class="n e" style="left:624.7px;top:721.9px"><svg viewBox="0 0 109 113" width="12" height="12.4"><path d="M63.7 110.3C60.8 113.9 55 111.9 55 107.3L54 40.1H99.2C107.4 40.1 112 49.5 106.9 55.9Z" fill="#249361"/><path d="M63.7 110.3C60.8 113.9 55 111.9 55 107.3L54 40.1H99.2C107.4 40.1 112 49.5 106.9 55.9Z" fill="#3ecf8e" opacity="0.55"/><path d="M45.3 2.1C48.2-1.5 54-0.4 54 5L54.5 72.3H9.8C1.6 72.3-2.9 62.8 2.2 56.4Z" fill="#3ecf8e"/></svg></div>
<div class="ei" style="left:648.9px;top:746.4px"></div>
<div class="hi" style="left:622.6px;top:734.6px"></div>
<div class="ho" style="left:653.7px;top:735.2px"></div>
<div class="lb" style="left:590.4px;top:755.3px"><div class="lt">Update Current Stck</div><div class="sb">update: row</div></div>
<div class="n e" style="left:619.7px;top:794px"><svg viewBox="0 0 10 12" width="9.8" height="11.8"><path d="M0.7 0H6.8L10 3.2V11.3Q10 12 9.3 12H0.7Q0 12 0 11.3V0.7Q0 0 0.7 0Z" fill="#1faa4c"/><path d="M6.8 0V3.2H10Z" fill="#86dba0"/><rect x="3" y="6.1" width="4" height="3.9" fill="#b8f3c4"/><path d="M3 8H7" stroke="#8fdca5" stroke-width="0.4"/></svg></div>
<div class="ei" style="left:643.9px;top:818.5px"></div>
<div class="hi" style="left:617.6px;top:806.7px"></div>
<div class="ho" style="left:648.7px;top:807.3px"></div>
<div class="lb" style="left:585.4px;top:827.4px"><div class="lt">Update Current Stock1</div><div class="sb">update: sheet</div></div>
<div class="n e" style="left:691.7px;top:793.6px"><svg viewBox="0 0 10 12" width="9.8" height="11.8"><path d="M0.7 0H6.8L10 3.2V11.3Q10 12 9.3 12H0.7Q0 12 0 11.3V0.7Q0 0 0.7 0Z" fill="#1faa4c"/><path d="M6.8 0V3.2H10Z" fill="#86dba0"/><rect x="3" y="6.1" width="4" height="3.9" fill="#b8f3c4"/><path d="M3 8H7" stroke="#8fdca5" stroke-width="0.4"/></svg></div>
<div class="ei" style="left:715.9px;top:818.1px"></div>
<div class="hi" style="left:689.6px;top:806.3px"></div>
<div class="ho" style="left:720.7px;top:806.9px"></div>
<div class="lb" style="left:657.4px;top:827px"><div class="lt">LookUp Current stock1</div><div class="sb">read: sheet</div></div>
<div class="n" style="left:764.3px;top:793.6px"><svg viewBox="0 0 12 12" width="12" height="12"><path d="M4.7 0.9H3.3Q2.3 0.9 2.3 1.9V4.7Q2.3 5.8 0.6 6Q2.3 6.2 2.3 7.3V10.1Q2.3 11.1 3.3 11.1H4.7M7.3 0.9H8.7Q9.7 0.9 9.7 1.9V4.7Q9.7 5.8 11.4 6Q9.7 6.2 9.7 7.3V10.1Q9.7 11.1 8.7 11.1H7.3" fill="none" stroke="#f0a236" stroke-width="1.3" stroke-linejoin="round"/></svg></div>
<div class="hi" style="left:762.2px;top:806.3px"></div>
<div class="ho" style="left:793.3px;top:806.9px"></div>
<div class="lb" style="left:730px;top:827px"><div class="lt">Low stock Detection1</div></div>
<div class="n" style="left:825.8px;top:793.7px"><svg viewBox="0 0 12 13" width="13" height="14.1"><g fill="#1b8f43"><path d="M0.9 1.9H10.3L11.5 3.2L10.3 4.5H0.9Q0.5 4.5 0.5 4.1V2.3Q0.5 1.9 0.9 1.9Z"/><path d="M11.1 6.2H1.7L0.5 7.5L1.7 8.8H11.1Q11.5 8.8 11.5 8.4V6.6Q11.5 6.2 11.1 6.2Z"/><rect x="5.5" y="1.2" width="1" height="0.7"/><rect x="5.5" y="4.5" width="1" height="1.7"/><rect x="5.5" y="9.5" width="1" height="1.8"/></g></svg></div>
<div class="hi" style="left:823.7px;top:806.4px"></div>
<div class="ho" style="left:854.8px;top:801.6px"></div>
<div class="ol yl" style="left:859.8px;top:801.5px">true</div>
<div class="ho" style="left:854.8px;top:812.1px"></div>
<div class="ol yl" style="left:859.8px;top:812px">false</div>
<div class="lb" style="left:791.5px;top:827.1px"><div class="lt">Is Stock is Low</div></div>
<div class="n e" style="left:903.8px;top:788.9px"><svg viewBox="0 0 14 10" width="13.4" height="9.6"><path d="M1.4 9V1.6" stroke="#4285f4" stroke-width="2.6" stroke-linecap="round"/><path d="M12.6 9V1.6" stroke="#34a853" stroke-width="2.6" stroke-linecap="round"/><path d="M1.4 1.6L7 5.6L12.6 1.6" fill="none" stroke="#ea4335" stroke-width="2.6" stroke-linejoin="round" stroke-linecap="round"/><path d="M10.8 2.9L12.6 1.6" stroke="#fbbc04" stroke-width="2.6" stroke-linecap="round"/><path d="M1.4 1.6L3 2.8" stroke="#c5221f" stroke-width="2.6" stroke-linecap="round"/></svg></div>
<div class="ei" style="left:928px;top:813.4px"></div>
<div class="hi" style="left:901.7px;top:801.6px"></div>
<div class="ho" style="left:932.8px;top:802.2px"></div>
<div class="lb" style="left:869.5px;top:822.3px"><div class="lt">Low Stock Email Alert</div><div class="sb">send: message</div></div>
<div class="pb" style="left:736.1px;top:85px">+</div>
<div class="pb" style="left:736px;top:239.4px">+</div>
<div class="pb" style="left:736.1px;top:342.1px">+</div>
<div class="pb" style="left:921.7px;top:254.9px">+</div>
<div class="pb" style="left:850.9px;top:270.3px">+</div>
<div class="pb" style="left:668.8px;top:626.1px">+</div>
<div class="pb" style="left:453.7px;top:842.4px">+</div>
<div class="pb" style="left:530px;top:832.5px">+</div>
<div class="pb" style="left:525px;top:904.1px">+</div>
<div class="pb" style="left:673.5px;top:734.3px">+</div>
<div class="pb" style="left:881.4px;top:811.2px">+</div>
<div class="pb" style="left:952.5px;top:801.3px">+</div>
<div class="el pk" style="left:98.4px;top:188.4px">POST</div>
<div class="el yl" style="left:87.9px;top:626.4px">POST</div>
<div class="el yl" style="left:87.7px;top:837.8px">GET</div>
</body></html>
